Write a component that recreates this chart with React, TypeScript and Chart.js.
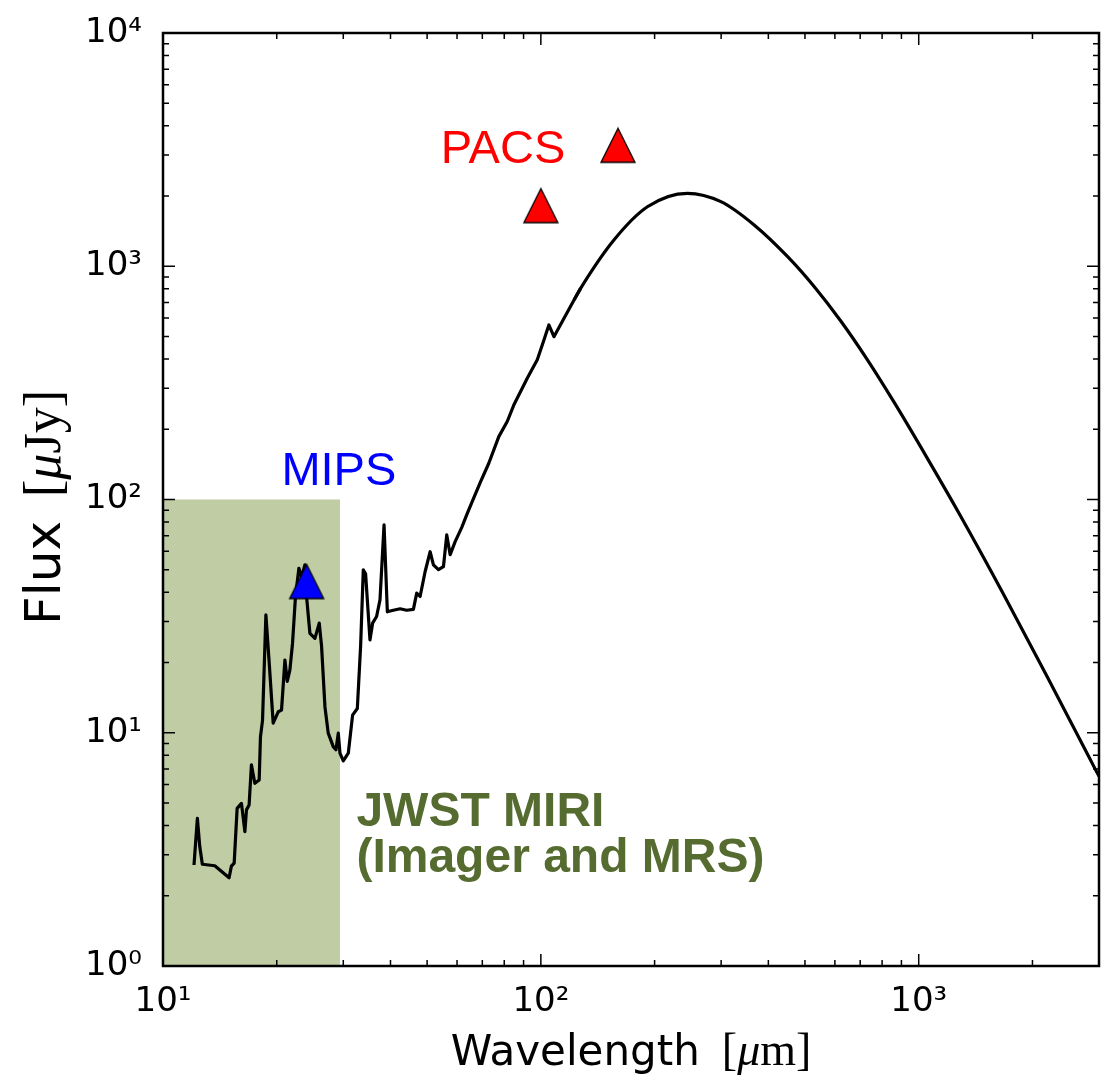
import React, { useEffect, useRef } from 'react';
import { Chart, registerables } from 'chart.js';

Chart.register(...registerables);

// ---- Data ----
const spectrumWavelength = [
  12.08, 12.33, 12.51, 12.71, 13.71, 14.96, 15.17, 15.43, 15.71, 16.13,
  16.47, 16.63, 16.9, 17.14, 17.5, 17.97, 18.11, 18.34, 18.72, 19.1,
  19.57, 20.18, 20.59, 21.02, 21.32, 21.67, 22.02, 22.42, 22.89, 23.26,
  23.75, 23.98, 24.48, 25.24, 25.91, 26.28, 26.83, 27.37, 28.22, 28.69,
  29.1, 29.4, 30.0, 30.93, 31.75, 32.68, 33.34, 33.89, 34.37, 35.3,
  35.87, 36.75, 37.52, 38.46, 39.24, 40.7, 42.41, 44.15, 45.99, 46.93,
  47.91, 49.39, 50.93, 51.96, 53.57, 55.23, 56.36, 57.54, 59.32, 61.76,
  63.83, 65.81, 69.23, 72.82, 77.39, 81.47, 84.8, 92.04, 97.84, 101.9,
  105.0, 108.3, 122.4, 127.4,
];
const spectrumFlux = [
  2.71, 4.3, 3.25, 2.73, 2.69, 2.39, 2.68, 2.76, 4.74, 4.98,
  3.77, 4.67, 4.9, 7.28, 6.07, 6.27, 9.6, 11.3, 32, 20,
  11, 12.3, 12.5, 20.5, 16.6, 18.6, 24.2, 38.4, 50.7, 46.5,
  52.5, 38.4, 26.7, 25.4, 29.5, 23.5, 12.9, 9.96, 8.72, 8.45,
  9.96, 8.17, 7.57, 8.17, 11.9, 12.7, 23.5, 49.9, 48, 25,
  29.5, 31.5, 37.1, 77.8, 33, 33.5, 34, 33.5, 33.8, 39.7,
  38.4, 49, 59.7, 52.5, 50, 51.5, 70.5, 58, 66, 76,
  87, 98, 119, 143, 186, 216, 254, 331, 397, 483,
  560, 499, 716, 804,
];
const modelWavelength = [
  122.4, 127.4, 156.1, 191.4, 244.3, 299.5, 366.8, 449.9, 529.2,
  622.6, 733.1, 862.1, 1057, 1287, 1682, 2176, 3000,
];
const modelFlux = [
  716, 804, 1296, 1799, 2055, 1892, 1503, 1099, 817,
  581, 395, 260, 149, 85.6, 38.9, 17.7, 6.5,
];
const mipsWavelength = [24];
const mipsFlux = [44.5];
const pacsWavelength = [100, 160];
const pacsFlux = [1820, 3300];
const miriWavelength = [10, 29.4];
const miriFlux = [100, 100];

const xTickValues = [
  10, 20, 30, 40, 50, 60, 70, 80, 90,
  100, 200, 300, 400, 500, 600, 700, 800, 900,
  1000, 2000, 3000,
];
const yTickValues = [
  1, 2, 3, 4, 5, 6, 7, 8, 9,
  10, 20, 30, 40, 50, 60, 70, 80, 90,
  100, 200, 300, 400, 500, 600, 700, 800, 900,
  1000, 2000, 3000, 4000, 5000, 6000, 7000, 8000, 9000,
  10000,
];

const xAxisTitle = ['Wavelength', '[', 'μ', 'm', ']'];
const yAxisTitle = ['Flux', '[', 'μ', 'Jy', ']'];

const annotationTexts = ['PACS', 'MIPS', 'JWST MIRI', '(Imager and MRS)'];
const annotationAnchors = [
  { x: 79.4, y: 2772 },
  { x: 29.2, y: 115.4 },
  { x: 32.5, y: 3.98 },
  { x: 32.5, y: 2.53 },
];

// ---- helpers ----
const SUP: Record<string, string> = {
  '0': '\u2070', '1': '\u00B9', '2': '\u00B2', '3': '\u00B3', '4': '\u2074',
  '5': '\u2075', '6': '\u2076', '7': '\u2077', '8': '\u2078', '9': '\u2079',
};
const isPow10 = (v: number) => {
  const l = Math.log10(v);
  return Math.abs(l - Math.round(l)) < 1e-9;
};
const powLabel = (v: number) => {
  if (!isPow10(v)) return '';
  const e = String(Math.round(Math.log10(v)));
  return '10' + e.split('').map((c) => SUP[c] || c).join('');
};
const pts = (xs: number[], ys: number[]) => xs.map((x, i) => ({ x, y: ys[i] }));

function makeTriangle(fill: string) {
  const c = document.createElement('canvas');
  c.width = 38;
  c.height = 38;
  const g = c.getContext('2d')!;
  g.beginPath();
  g.moveTo(19, 2);
  g.lineTo(2, 36);
  g.lineTo(36, 36);
  g.closePath();
  g.fillStyle = fill;
  g.fill();
  g.lineWidth = 1.3;
  g.strokeStyle = '#000';
  g.stroke();
  return c;
}

const SERIF = '"Liberation Serif", "DejaVu Serif", serif';
const SANS = '"DejaVu Sans", sans-serif';

const framePlugin = {
  id: 'frameTicks',
  afterDatasetsDraw(chart: any) {
    const { ctx, scales } = chart;
    const xs = scales.x;
    const ys = scales.y;
    ctx.save();
    const styles = [
      { font: '47px "Liberation Sans", Arial, sans-serif', color: '#ff0000', align: 'center' },
      { font: '47px "Liberation Sans", Arial, sans-serif', color: '#0000ff', align: 'center' },
      { font: 'bold 48px "Liberation Sans", Arial, sans-serif', color: '#556b2f', align: 'left' },
      { font: 'bold 48px "Liberation Sans", Arial, sans-serif', color: '#556b2f', align: 'left' },
    ];
    annotationTexts.forEach((t, i) => {
      const s = styles[i];
      ctx.font = s.font;
      ctx.fillStyle = s.color;
      ctx.textAlign = s.align;
      ctx.textBaseline = 'alphabetic';
      ctx.fillText(t, xs.getPixelForValue(annotationAnchors[i].x), ys.getPixelForValue(annotationAnchors[i].y));
    });
    ctx.restore();
  },
  afterDraw(chart: any) {
    const { ctx, chartArea: a, scales } = chart;
    const xs = scales.x;
    const ys = scales.y;
    ctx.save();
    ctx.strokeStyle = '#000';
    ctx.lineWidth = 1.5;
    ctx.beginPath();
    for (const t of xs.ticks) {
      const px = xs.getPixelForValue(t.value);
      const len = isPow10(t.value) ? 12 : 6;
      ctx.moveTo(px, a.bottom);
      ctx.lineTo(px, a.bottom - len);
      ctx.moveTo(px, a.top);
      ctx.lineTo(px, a.top + len);
    }
    for (const t of ys.ticks) {
      const py = ys.getPixelForValue(t.value);
      const len = isPow10(t.value) ? 12 : 6;
      ctx.moveTo(a.left, py);
      ctx.lineTo(a.left + len, py);
      ctx.moveTo(a.right, py);
      ctx.lineTo(a.right - len, py);
    }
    ctx.stroke();
    ctx.lineWidth = 2.5;
    ctx.strokeRect(a.left, a.top, a.right - a.left, a.bottom - a.top);

    const drawParts = (parts: { t: string; f: string }[], gap: number) => {
      const widths = parts.map((p) => {
        ctx.font = p.f;
        return ctx.measureText(p.t).width;
      });
      const total = widths.reduce((s, w) => s + w, 0) + gap;
      let x = -total / 2;
      parts.forEach((p, i) => {
        ctx.font = p.f;
        ctx.fillText(p.t, x, 0);
        x += widths[i] + (i === 0 ? gap : 0);
      });
    };
    ctx.fillStyle = '#000';
    ctx.textAlign = 'left';
    ctx.textBaseline = 'alphabetic';

    ctx.save();
    ctx.translate((a.left + a.right) / 2, 1065);
    drawParts(
      [
        { t: xAxisTitle[0], f: '42px ' + SANS },
        { t: xAxisTitle[1], f: '46px ' + SERIF },
        { t: xAxisTitle[2], f: 'italic 46px ' + SERIF },
        { t: xAxisTitle[3], f: '46px ' + SERIF },
        { t: xAxisTitle[4], f: '46px ' + SERIF },
      ],
      22
    );
    ctx.restore();

    ctx.save();
    ctx.translate(60, (a.top + a.bottom) / 2 + 8);
    ctx.rotate(-Math.PI / 2);
    drawParts(
      [
        { t: yAxisTitle[0], f: '50px ' + SANS },
        { t: yAxisTitle[1], f: '52px ' + SERIF },
        { t: yAxisTitle[2], f: 'italic 52px ' + SERIF },
        { t: yAxisTitle[3], f: '52px ' + SERIF },
        { t: yAxisTitle[4], f: '52px ' + SERIF },
      ],
      24
    );
    ctx.restore();
    ctx.restore();
  },
};

const zeroPadding = (s: any) => {
  s.paddingLeft = 0;
  s.paddingRight = 0;
  s.paddingTop = 0;
  s.paddingBottom = 0;
};

const CANVAS_W = 1110;
const CANVAS_H = 1078;

export default function App() {
  const ref = useRef<HTMLCanvasElement | null>(null);
  useEffect(() => {
    if (!ref.current) return;
    const chart = new Chart(ref.current, {
      type: 'scatter',
      data: {
        datasets: [
          {
            label: 'MIPS',
            data: pts(mipsWavelength, mipsFlux),
            pointStyle: makeTriangle('#0000ff') as any,
            pointRadius: 10,
            showLine: false,
            order: 0,
          },
          {
            label: 'PACS',
            data: pts(pacsWavelength, pacsFlux),
            pointStyle: makeTriangle('#ff0000') as any,
            pointRadius: 10,
            showLine: false,
            order: 0,
          },
          {
            label: 'Spectrum',
            data: pts(spectrumWavelength, spectrumFlux),
            showLine: true,
            borderColor: '#000',
            borderWidth: 3.2,
            pointRadius: 0,
            tension: 0,
            borderJoinStyle: 'round',
            fill: false,
            order: 1,
          },
          {
            label: 'Model',
            data: pts(modelWavelength, modelFlux),
            showLine: true,
            borderColor: '#000',
            borderWidth: 3.2,
            pointRadius: 0,
            cubicInterpolationMode: 'monotone',
            fill: false,
            order: 1,
          },
          {
            label: 'JWST MIRI',
            data: pts(miriWavelength, miriFlux),
            showLine: true,
            borderWidth: 0,
            borderColor: 'rgba(0,0,0,0)',
            backgroundColor: 'rgb(191,204,164)',
            pointRadius: 0,
            fill: 'start',
            order: 2,
          },
        ],
      },
      options: {
        animation: false,
        responsive: false,
        devicePixelRatio: 1,
        events: [],
        layout: { padding: { top: 33, right: 4, left: 0, bottom: 0 } },
        plugins: { legend: { display: false }, tooltip: { enabled: false } },
        scales: {
          x: {
            type: 'logarithmic',
            min: 10,
            max: 3000,
            afterBuildTicks: (s: any) => {
              s.ticks = xTickValues.map((v) => ({ value: v, major: isPow10(v) }));
            },
            afterFit: (s: any) => {
              s.height = 112;
              zeroPadding(s);
            },
            grid: { display: false, drawTicks: false },
            border: { display: false },
            ticks: {
              autoSkip: false,
              maxRotation: 0,
              minRotation: 0,
              padding: 16,
              color: '#000',
              font: { family: 'DejaVu Sans', size: 34 },
              callback: (v: any) => powLabel(Number(v)),
            },
          },
          y: {
            type: 'logarithmic',
            min: 1,
            max: 10000,
            afterBuildTicks: (s: any) => {
              s.ticks = yTickValues.map((v) => ({ value: v, major: isPow10(v) }));
            },
            afterFit: (s: any) => {
              s.width = 163;
              zeroPadding(s);
            },
            grid: { display: false, drawTicks: false },
            border: { display: false },
            ticks: {
              autoSkip: false,
              padding: 21,
              color: '#000',
              font: { family: 'DejaVu Sans', size: 34 },
              callback: (v: any) => powLabel(Number(v)),
            },
          },
        },
      } as any,
      plugins: [framePlugin],
    });
    return () => chart.destroy();
  }, []);
  return (
    <div
      style={{
        position: 'fixed',
        left: 0,
        top: 0,
        width: 1102,
        height: 1078,
        overflow: 'hidden',
        background: '#fff',
      }}
    >
      <canvas
        ref={ref}
        width={CANVAS_W}
        height={CANVAS_H}
        style={{ display: 'block', width: CANVAS_W, height: CANVAS_H }}
      />
    </div>
  );
}
